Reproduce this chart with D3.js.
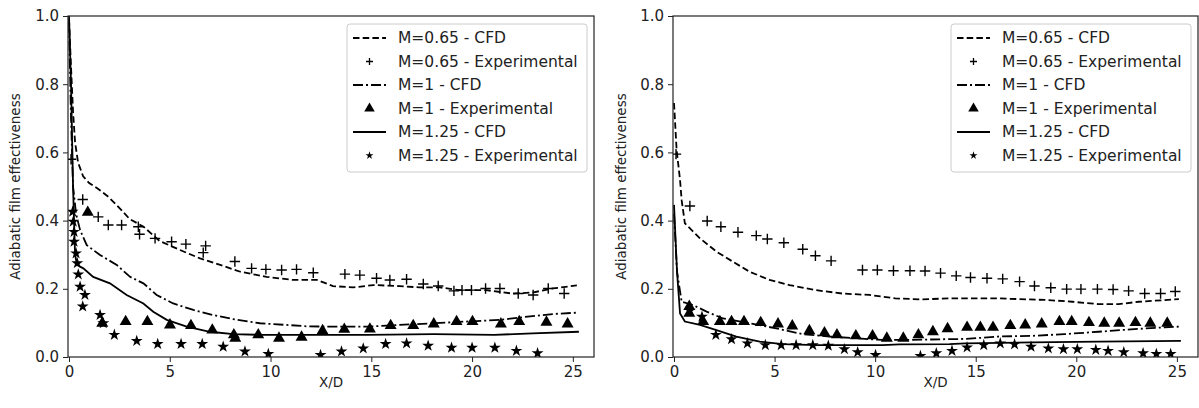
<!DOCTYPE html>
<html><head><meta charset="utf-8">
<script src="https://cdn.jsdelivr.net/npm/d3@7"></script>
<style>body{margin:0;background:#fff}svg{display:block}</style>
</head><body>
<svg id="c" width="1199" height="408"></svg>
<script>
// ---------- data ----------
const xTicks = [0, 5, 10, 15, 20, 25];
const yTicks = [0.0, 0.2, 0.4, 0.6, 0.8, 1.0];
const legendLabels = ["M=0.65 - CFD", "M=0.65 - Experimental", "M=1 - CFD", "M=1 - Experimental", "M=1.25 - CFD", "M=1.25 - Experimental"];
const xLabel = "X/D";
const yLabel = "Adiabatic film effectiveness";

// left panel
const leftCfd065 = [[0,0.99],[0.1,0.85],[0.2,0.72],[0.3,0.63],[0.45,0.57],[0.7,0.53],[1.0,0.51],[1.4,0.495],[1.95,0.47],[2.6,0.431],[3.0,0.405],[3.7,0.382],[4.5,0.34],[5.5,0.314],[6.5,0.289],[7.5,0.27],[8.5,0.25],[9.8,0.235],[11.1,0.226],[12.3,0.226],[13.1,0.208],[14.1,0.204],[15.1,0.211],[16.4,0.208],[17.4,0.204],[18.4,0.204],[19.4,0.196],[20.7,0.196],[22.0,0.186],[23.0,0.189],[24.0,0.201],[25.2,0.21]];
const leftCfd1 = [[0,0.98],[0.1,0.7],[0.2,0.5],[0.35,0.42],[0.55,0.372],[0.88,0.328],[1.54,0.299],[2.37,0.27],[3.03,0.235],[3.69,0.216],[4.35,0.182],[5.17,0.157],[6.17,0.138],[7.16,0.123],[8.32,0.109],[9.47,0.099],[10.8,0.094],[11.8,0.09],[12.8,0.089],[14.8,0.089],[16.4,0.094],[18.1,0.099],[19.7,0.104],[21.4,0.109],[23.0,0.12],[24.0,0.126],[25.2,0.13]];
const leftCfd125 = [[0,1.0],[0.1,0.8],[0.2,0.5],[0.3,0.3],[0.4,0.27],[0.71,0.26],[1.2,0.235],[2.03,0.216],[2.86,0.182],[3.69,0.157],[4.18,0.133],[4.85,0.109],[5.84,0.089],[6.99,0.074],[8.15,0.067],[9.47,0.065],[11.1,0.065],[14.8,0.065],[18.1,0.067],[21.1,0.065],[23.0,0.069],[25.3,0.074]];
const leftExp065 = [[0.1,0.58],[0.68,0.462],[1.45,0.411],[1.95,0.387],[2.61,0.387],[3.44,0.382],[3.5,0.36],[4.27,0.348],[5.09,0.338],[5.8,0.331],[6.78,0.326],[6.66,0.306],[8.23,0.28],[9.06,0.26],[9.77,0.257],[10.55,0.255],[11.29,0.257],[12.12,0.247],[13.69,0.243],[14.43,0.24],[15.26,0.231],[15.92,0.226],[16.75,0.228],[17.58,0.214],[18.32,0.208],[19.1,0.194],[19.5,0.196],[19.97,0.196],[20.67,0.201],[21.38,0.201],[22.29,0.186],[23.03,0.182],[23.78,0.201],[24.57,0.186]];
const leftExp1 = [[0.93,0.424],[1.65,0.099],[2.81,0.104],[3.89,0.104],[5.01,0.094],[6.05,0.092],[7.11,0.079],[8.18,0.065],[8.25,0.055],[9.39,0.065],[10.42,0.055],[11.54,0.058],[12.58,0.077],[13.66,0.081],[14.93,0.082],[15.96,0.092],[17.08,0.092],[18.1,0.097],[19.23,0.104],[20.02,0.104],[21.43,0.097],[22.34,0.104],[23.69,0.102],[24.74,0.097]];
const leftExp125 = [[0.18,0.426],[0.21,0.397],[0.25,0.367],[0.25,0.338],[0.35,0.304],[0.41,0.275],[0.46,0.242],[0.55,0.206],[0.79,0.182],[0.68,0.148],[1.54,0.123],[1.7,0.099],[2.25,0.065],[3.36,0.047],[4.4,0.038],[5.56,0.038],[6.61,0.038],[7.65,0.03],[8.73,0.016],[9.89,0.009],[12.48,0.006],[13.52,0.016],[14.6,0.025],[15.71,0.038],[16.75,0.04],[17.82,0.033],[18.98,0.027],[20.0,0.027],[21.13,0.027],[22.2,0.018],[23.25,0.011]];

// right panel
const rightCfd065 = [[0,0.745],[0.13,0.607],[0.3,0.519],[0.38,0.46],[0.54,0.392],[1.29,0.348],[2.11,0.309],[2.94,0.279],[3.76,0.25],[4.75,0.226],[5.74,0.211],[7.06,0.196],[8.38,0.186],[9.7,0.182],[11.0,0.172],[12.3,0.169],[13.7,0.172],[16.1,0.172],[17.5,0.169],[18.6,0.167],[19.8,0.162],[21.1,0.155],[22.1,0.155],[23.1,0.162],[24.4,0.167],[25.1,0.17]];
const rightCfd1 = [[0,0.42],[0.15,0.25],[0.38,0.162],[0.96,0.152],[1.62,0.133],[2.44,0.113],[3.76,0.099],[5.08,0.084],[6.4,0.067],[7.72,0.06],[9.04,0.055],[10.36,0.05],[11.7,0.05],[13.3,0.052],[14.5,0.053],[16.1,0.06],[17.8,0.062],[19.4,0.067],[21.1,0.074],[22.7,0.081],[24.4,0.087],[25.1,0.089]];
const rightCfd125 = [[0,0.446],[0.15,0.25],[0.3,0.128],[0.54,0.104],[1.29,0.094],[2.11,0.079],[3.1,0.06],[4.26,0.045],[5.41,0.038],[7.06,0.035],[10.36,0.035],[11.2,0.037],[13.7,0.038],[14.49,0.04],[17.79,0.043],[21.09,0.045],[25.2,0.047]];
const rightExp065 = [[0.1,0.595],[0.79,0.443],[1.65,0.399],[2.33,0.382],[3.18,0.366],[4.09,0.356],[4.64,0.346],[5.46,0.335],[6.4,0.316],[7.03,0.297],[7.81,0.282],[9.37,0.255],[10.11,0.255],[10.91,0.253],[11.73,0.253],[12.48,0.252],[13.25,0.246],[14.03,0.238],[14.74,0.233],[15.56,0.231],[16.34,0.229],[17.18,0.221],[17.92,0.208],[18.73,0.203],[19.52,0.199],[20.23,0.199],[21.05,0.199],[21.83,0.198],[22.6,0.194],[23.4,0.186],[24.19,0.186],[24.92,0.192]];
const rightExp1 = [[0.76,0.148],[0.76,0.128],[1.45,0.104],[2.28,0.104],[2.86,0.104],[3.48,0.104],[4.31,0.101],[5.17,0.097],[5.88,0.091],[6.73,0.077],[7.48,0.071],[8.1,0.065],[9.04,0.062],[9.87,0.062],[10.58,0.055],[11.4,0.055],[12.15,0.065],[12.87,0.074],[13.6,0.083],[14.57,0.087],[15.23,0.087],[15.86,0.087],[16.72,0.092],[17.46,0.094],[18.28,0.097],[19.16,0.104],[19.77,0.104],[20.63,0.101],[21.39,0.099],[22.13,0.099],[22.94,0.101],[23.68,0.099],[24.52,0.099]];
const rightExp125 = [[0.79,0.136],[1.39,0.118],[2.08,0.065],[2.86,0.052],[3.65,0.04],[4.54,0.035],[5.33,0.035],[6.07,0.035],[6.9,0.035],[7.67,0.033],[8.47,0.023],[9.13,0.014],[10.02,0.006],[12.25,0.003],[13.04,0.011],[13.82,0.018],[14.57,0.028],[15.4,0.035],[16.22,0.04],[16.93,0.037],[17.75,0.03],[18.61,0.025],[19.36,0.023],[20.05,0.023],[20.97,0.021],[21.58,0.018],[22.36,0.014],[23.32,0.011],[23.98,0.009],[24.69,0.009]];

// ---------- drawing ----------
const svg = d3.select("#c");
const FONT = "DejaVu Sans, sans-serif";
const INK = "#222";
const xDomain = [-0.05, 26.05];
const yDomain = [0, 1];

const styles = {
  dash: "6.5,3.2",
  dashdot: "10,3,2,3",
  solid: null
};

const plusPath = "M-5.2,0H5.2M0,-5.2V5.2";
const triSym = d3.symbol().type(d3.symbolTriangle).size(62);
const starSym = d3.symbol().type(d3.symbolStar).size(44);

function drawPanel(id, left, right, top, bottom, ylabX, series) {
  const x = d3.scaleLinear().domain(xDomain).range([left, right]);
  const y = d3.scaleLinear().domain(yDomain).range([bottom, top]);
  const g = svg.append("g");
  g.append("clipPath").attr("id", "clip" + id).append("rect")
    .attr("x", left).attr("y", top).attr("width", right - left).attr("height", bottom - top);
  const plot = g.append("g").attr("clip-path", `url(#clip${id})`);

  const line = d3.line().x(d => x(d[0])).y(d => y(d[1]));
  [[series.c065, styles.dash], [series.c1, styles.dashdot], [series.c125, styles.solid]].forEach(([d, dash]) => {
    plot.append("path").datum(d).attr("d", line).attr("fill", "none")
      .attr("stroke", "#000").attr("stroke-width", 1.8)
      .attr("stroke-dasharray", dash);
  });
  plot.selectAll(".p").data(series.e065).join("path")
    .attr("transform", d => `translate(${x(d[0])},${y(d[1])})`)
    .attr("d", plusPath).attr("stroke", "#000").attr("stroke-width", 1.4).attr("fill", "none");
  plot.selectAll(".t").data(series.e1).join("path")
    .attr("transform", d => `translate(${x(d[0])},${y(d[1])})`)
    .attr("d", triSym).attr("fill", "#000");
  plot.selectAll(".s").data(series.e125).join("path")
    .attr("transform", d => `translate(${x(d[0])},${y(d[1])})`)
    .attr("d", starSym).attr("fill", "#000");

  // axes
  const xAxis = d3.axisBottom(x).tickValues(xTicks).tickSize(5).tickPadding(4).tickFormat(d3.format("d"));
  const yAxis = d3.axisLeft(y).tickValues(yTicks).tickSize(5).tickPadding(4).tickFormat(d3.format(".1f"));
  const gx = g.append("g").attr("transform", `translate(0,${bottom})`).call(xAxis);
  const gy = g.append("g").attr("transform", `translate(${left},0)`).call(yAxis);
  [gx, gy].forEach(a => {
    a.select(".domain").remove();
    a.selectAll("line").attr("stroke", INK).attr("stroke-width", 1);
    a.selectAll("text").attr("fill", INK).style("font-family", FONT).style("font-size", "15px");
  });
  g.append("rect").attr("x", left).attr("y", top).attr("width", right - left).attr("height", bottom - top)
    .attr("fill", "none").attr("stroke", INK).attr("stroke-width", 1.2);

  g.append("text").attr("x", (left + right) / 2).attr("y", 387).attr("text-anchor", "middle")
    .attr("fill", INK).style("font-family", FONT).style("font-size", "13.5px").text(xLabel);
  g.append("text").attr("transform", `translate(${ylabX},${(top + bottom) / 2}) rotate(-90)`)
    .attr("text-anchor", "middle").attr("dominant-baseline", "central")
    .attr("fill", INK).style("font-family", FONT).style("font-size", "13.5px").text(yLabel);

  // legend
  const lx = right - 247, ly = top + 8, lw = 240, lh = 148;
  const lg = g.append("g");
  lg.append("rect").attr("x", lx).attr("y", ly).attr("width", lw).attr("height", lh)
    .attr("rx", 3).attr("fill", "#fff").attr("fill-opacity", 0.8).attr("stroke", "#ccc").attr("stroke-width", 1);
  const rowY = i => ly + 14 + i * 23.5;
  const hx0 = lx + 6, hx1 = lx + 39, hc = (hx0 + hx1) / 2;
  legendLabels.forEach((lab, i) => {
    const yy = rowY(i);
    if (i % 2 === 0) {
      const dash = [styles.dash, styles.dashdot, styles.solid][i / 2];
      lg.append("line").attr("x1", hx0).attr("x2", hx1).attr("y1", yy).attr("y2", yy)
        .attr("stroke", "#000").attr("stroke-width", 1.8).attr("stroke-dasharray", dash);
    } else if (i === 1) {
      lg.append("path").attr("transform", `translate(${hc},${yy})`).attr("d", "M-3.5,0H3.5M0,-3.5V3.5")
        .attr("stroke", "#000").attr("stroke-width", 1.3);
    } else if (i === 3) {
      lg.append("path").attr("transform", `translate(${hc},${yy})`).attr("d", d3.symbol().type(d3.symbolTriangle).size(48)).attr("fill", "#000");
    } else {
      lg.append("path").attr("transform", `translate(${hc},${yy})`).attr("d", d3.symbol().type(d3.symbolStar).size(20)).attr("fill", "#000");
    }
    lg.append("text").attr("x", lx + 51).attr("y", yy).attr("dominant-baseline", "central")
      .attr("fill", INK).style("font-family", FONT).style("font-size", "15.5px").text(lab);
  });
}

drawPanel("L", 68, 594, 16, 357, 15, {c065: leftCfd065, c1: leftCfd1, c125: leftCfd125, e065: leftExp065, e1: leftExp1, e125: leftExp125});
drawPanel("R", 673, 1198, 16, 357, 621, {c065: rightCfd065, c1: rightCfd1, c125: rightCfd125, e065: rightExp065, e1: rightExp1, e125: rightExp125});
</script>
</body></html>
